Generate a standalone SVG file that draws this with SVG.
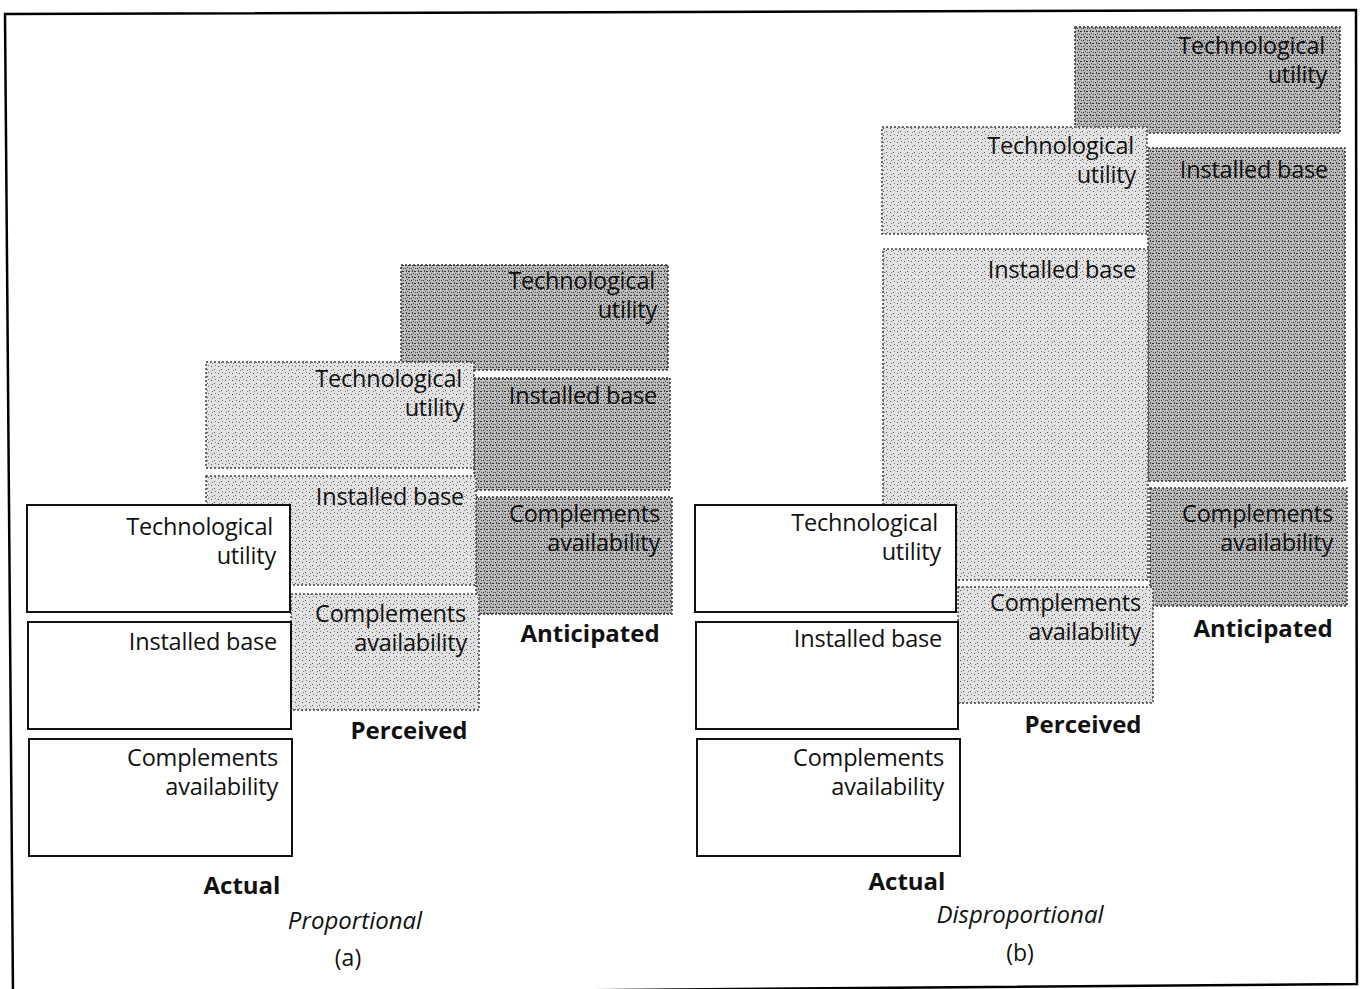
<svg xmlns="http://www.w3.org/2000/svg" width="1362" height="989" viewBox="0 0 1362 989">
<defs>
<pattern id="pp" width="7" height="7" patternUnits="userSpaceOnUse">
<rect width="7" height="7" fill="#e2e2e2"/>
<rect x="1" y="2" width="1" height="1" fill="#555"/>
<rect x="4" y="5" width="1" height="1" fill="#555"/>
<rect x="5" y="1" width="1" height="1" fill="#777"/>
<rect x="2" y="6" width="1" height="1" fill="#777"/>
</pattern>
<pattern id="pa" width="6" height="6" patternUnits="userSpaceOnUse">
<rect width="6" height="6" fill="#b8b8b8"/>
<rect x="0" y="1" width="2" height="1" fill="#333"/>
<rect x="3" y="4" width="1" height="1" fill="#333"/>
<rect x="4" y="0" width="1" height="2" fill="#444"/>
<rect x="1" y="4" width="1" height="1" fill="#555"/>
<rect x="5" y="3" width="1" height="1" fill="#555"/>
<rect x="2" y="2" width="1" height="1" fill="#ddd"/>
</pattern>
</defs>
<style>
.act{fill:#fff;stroke:#111;stroke-width:2}
.per{fill:url(#pp);stroke:#444;stroke-width:1.5;stroke-dasharray:2 2}
.ant{fill:url(#pa);stroke:#333;stroke-width:1.5;stroke-dasharray:2 2}
.t{font-family:"Open Sans","Liberation Sans",sans-serif;font-size:23.5px;fill:#111;text-anchor:end;letter-spacing:-0.2px}
.h{font-family:"Open Sans","Liberation Sans",sans-serif;font-size:24px;font-weight:bold;fill:#111;text-anchor:middle}
.c{font-family:"Open Sans","Liberation Sans",sans-serif;font-size:24px;font-style:italic;fill:#111;text-anchor:middle}
.p{font-family:"Open Sans","Liberation Sans",sans-serif;font-size:23px;fill:#111;text-anchor:middle}
</style>
<rect width="1362" height="989" fill="#fff"/>
<polygon points="5,14 1356,10 1357,984 13,995" fill="none" stroke="#000" stroke-width="2.5"/>

<!-- Panel (a) anticipated -->
<g id="a-ant-tech"><rect class="ant" x="401" y="265" width="267" height="105"/><text class="t" x="655" y="289">Technological</text><text class="t" x="657" y="318">utility</text></g>
<g id="a-ant-base"><rect class="ant" x="474" y="378" width="196" height="112"/><text class="t" x="657" y="404">Installed base</text></g>
<g id="a-ant-comp"><rect class="ant" x="476" y="497" width="196" height="117"/><text class="t" x="660" y="522">Complements</text><text class="t" x="660" y="551">availability</text></g>
<text class="h" x="590" y="642">Anticipated</text>

<!-- Panel (a) perceived -->
<g id="a-per-tech"><rect class="per" x="206" y="362" width="268" height="106"/><text class="t" x="462" y="387">Technological</text><text class="t" x="464" y="416">utility</text></g>
<g id="a-per-base"><rect class="per" x="206" y="476" width="270" height="109"/><text class="t" x="464" y="505">Installed base</text></g>
<g id="a-per-comp"><rect class="per" x="291" y="594" width="188" height="116"/><text class="t" x="466" y="622">Complements</text><text class="t" x="467" y="651">availability</text></g>
<text class="h" x="409" y="739">Perceived</text>

<!-- Panel (a) actual -->
<g id="a-act-tech"><rect class="act" x="27" y="505" width="263" height="107"/><text class="t" x="273" y="535">Technological</text><text class="t" x="276" y="564">utility</text></g>
<g id="a-act-base"><rect class="act" x="28" y="622" width="263" height="107"/><text class="t" x="277" y="650">Installed base</text></g>
<g id="a-act-comp"><rect class="act" x="29" y="739" width="263" height="117"/><text class="t" x="278" y="766">Complements</text><text class="t" x="278" y="795">availability</text></g>
<text class="h" x="242" y="894">Actual</text>
<text class="c" x="355" y="929">Proportional</text>
<text class="p" x="348" y="966">(a)</text>

<!-- Panel (b) anticipated -->
<g id="b-ant-tech"><rect class="ant" x="1075" y="27" width="265" height="106"/><text class="t" x="1325" y="54">Technological</text><text class="t" x="1327" y="83">utility</text></g>
<g id="b-ant-base"><rect class="ant" x="1148" y="148" width="197" height="333"/><text class="t" x="1328" y="178">Installed base</text></g>
<g id="b-ant-comp"><rect class="ant" x="1150" y="488" width="197" height="118"/><text class="t" x="1333" y="522">Complements</text><text class="t" x="1333" y="551">availability</text></g>
<text class="h" x="1263" y="637">Anticipated</text>

<!-- Panel (b) perceived -->
<g id="b-per-tech"><rect class="per" x="882" y="127" width="265" height="107"/><text class="t" x="1134" y="154">Technological</text><text class="t" x="1136" y="183">utility</text></g>
<g id="b-per-base"><rect class="per" x="883" y="249" width="265" height="331"/><text class="t" x="1136" y="278">Installed base</text></g>
<g id="b-per-comp"><rect class="per" x="958" y="587" width="195" height="116"/><text class="t" x="1141" y="611">Complements</text><text class="t" x="1141" y="640">availability</text></g>
<text class="h" x="1083" y="733">Perceived</text>

<!-- Panel (b) actual -->
<g id="b-act-tech"><rect class="act" x="695" y="505" width="261" height="107"/><text class="t" x="938" y="531">Technological</text><text class="t" x="941" y="560">utility</text></g>
<g id="b-act-base"><rect class="act" x="696" y="622" width="262" height="107"/><text class="t" x="942" y="647">Installed base</text></g>
<g id="b-act-comp"><rect class="act" x="697" y="739" width="263" height="117"/><text class="t" x="944" y="766">Complements</text><text class="t" x="944" y="795">availability</text></g>
<text class="h" x="907" y="890">Actual</text>
<text class="c" x="1020" y="923">Disproportional</text>
<text class="p" x="1020" y="961">(b)</text>

<g id="connectors"/>
</svg>
